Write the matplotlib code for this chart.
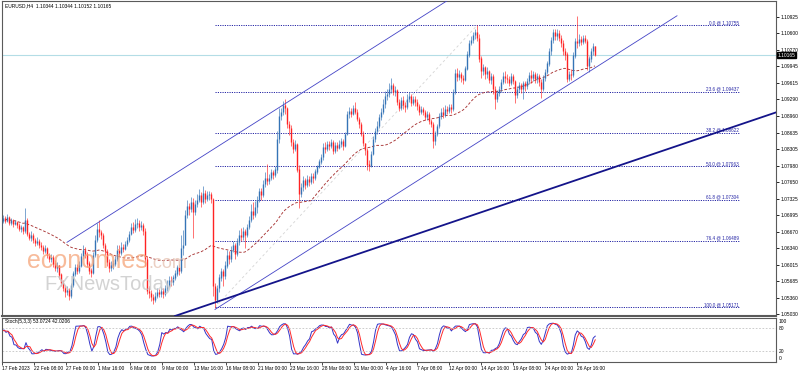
import numpy as np
import pandas as pd
import matplotlib
matplotlib.use("Agg")
import matplotlib.pyplot as plt
import matplotlib.transforms as mtransforms

plt.rcParams["font.family"] = ["Liberation Sans", "DejaVu Sans"]

symbol_title = "EURUSD,H4  1.10344 1.10344 1.10152 1.10165"
stoch_title = "Stoch(5,3,3) 53.0724 42.0206"

# H4 bars, 17 Feb 2023 16:00 .. 28 Apr 2023 04:00 (one row per trading day)
first_open = 1.0676
closes = [
    1.0688, 1.0694,
    1.0688, 1.0696, 1.0684, 1.0690, 1.0682, 1.0686,
    1.0680, 1.0672, 1.0676, 1.0668, 1.0690, 1.0662,
    1.0655, 1.0660, 1.0650, 1.0644, 1.0648, 1.0640,
    1.0636, 1.0628, 1.0634, 1.0620, 1.0612, 1.0616,
    1.0604, 1.0596, 1.0600, 1.0582, 1.0566, 1.0556,
    1.0548, 1.0552, 1.0540, 1.0562, 1.0584, 1.0596,
    1.0590, 1.0600, 1.0618, 1.0630, 1.0622, 1.0604,
    1.0590, 1.0586, 1.0620, 1.0650, 1.0672, 1.0666,
    1.0660, 1.0640, 1.0628, 1.0606, 1.0596, 1.0600,
    1.0604, 1.0612, 1.0630, 1.0624, 1.0636, 1.0632,
    1.0642, 1.0650, 1.0662, 1.0676, 1.0670, 1.0682,
    1.0684, 1.0676, 1.0680, 1.0668, 1.0612, 1.0550,
    1.0546, 1.0538, 1.0532, 1.0540, 1.0548, 1.0544,
    1.0550, 1.0544, 1.0556, 1.0562, 1.0572, 1.0568,
    1.0576, 1.0584, 1.0596, 1.0590, 1.0634, 1.0640,
    1.0700, 1.0718, 1.0712, 1.0726, 1.0706, 1.0722,
    1.0730, 1.0740, 1.0726, 1.0744, 1.0732, 1.0740,
    1.0742, 1.0732, 1.0560, 1.0532, 1.0556, 1.0576,
    1.0588, 1.0580, 1.0600, 1.0620, 1.0612, 1.0630,
    1.0640, 1.0622, 1.0646, 1.0660, 1.0656, 1.0668,
    1.0660, 1.0676, 1.0690, 1.0708, 1.0700, 1.0716,
    1.0730, 1.0748, 1.0740, 1.0762, 1.0774, 1.0768,
    1.0774, 1.0784, 1.0780, 1.0790, 1.0850, 1.0896,
    1.0904, 1.0918, 1.0912, 1.0880, 1.0872, 1.0844,
    1.0830, 1.0840, 1.0790, 1.0742, 1.0756, 1.0770,
    1.0760, 1.0772, 1.0766, 1.0778, 1.0774, 1.0786,
    1.0796, 1.0806, 1.0814, 1.0834, 1.0830, 1.0840,
    1.0836, 1.0844, 1.0826, 1.0838, 1.0832, 1.0840,
    1.0846, 1.0836, 1.0860, 1.0900, 1.0906, 1.0900,
    1.0912, 1.0904, 1.0890, 1.0880, 1.0860, 1.0842,
    1.0828, 1.0800, 1.0798, 1.0820, 1.0850, 1.0866,
    1.0876, 1.0894, 1.0904, 1.0920, 1.0936, 1.0940,
    1.0950, 1.0958, 1.0944, 1.0948, 1.0924, 1.0912,
    1.0928, 1.0918, 1.0914, 1.0930, 1.0936, 1.0922,
    1.0930, 1.0924, 1.0916, 1.0904, 1.0910, 1.0904,
    1.0894, 1.0900, 1.0886, 1.0880, 1.0846, 1.0860,
    1.0876, 1.0896, 1.0904, 1.0898, 1.0910, 1.0906,
    1.0914, 1.0910, 1.0944, 1.0982, 1.0974, 1.0980,
    1.0972, 1.0968, 1.0990, 1.1018, 1.1040, 1.1046,
    1.1056, 1.1062, 1.1050, 1.1010, 1.0986, 1.0992,
    1.0980, 1.0986, 1.0968, 1.0976, 1.0950, 1.0930,
    1.0942, 1.0950, 1.0964, 1.0976, 1.0972, 1.0970,
    1.0962, 1.0976, 1.0966, 1.0938, 1.0950, 1.0958,
    1.0950, 1.0962, 1.0956, 1.0966, 1.0978, 1.0972,
    1.0980, 1.0970, 1.0976, 1.0964, 1.0950, 1.0972,
    1.0984, 1.1000, 1.1024, 1.1046, 1.1062, 1.1054,
    1.1060, 1.1050, 1.1040, 1.1024, 1.1018, 1.0970,
    1.0980, 1.0978, 1.1016, 1.1044, 1.1040, 1.1048,
    1.1042, 1.1050, 1.1044, 1.0996, 1.1010, 1.1024,
    1.10344, 1.10165,
]
highs = [
    1.0694, 1.0700,
    1.0699, 1.0702, 1.0698, 1.0694, 1.0692, 1.0690,
    1.0688, 1.0684, 1.0680, 1.0678, 1.0714, 1.0694,
    1.0666, 1.0668, 1.0664, 1.0654, 1.0656, 1.0652,
    1.0646, 1.0640, 1.0640, 1.0636, 1.0624, 1.0622,
    1.0620, 1.0610, 1.0606, 1.0602, 1.0586, 1.0572,
    1.0562, 1.0560, 1.0556, 1.0566, 1.0590, 1.0604,
    1.0604, 1.0608, 1.0624, 1.0640, 1.0636, 1.0626,
    1.0608, 1.0596, 1.0626, 1.0660, 1.0684, 1.0690,
    1.0670, 1.0664, 1.0644, 1.0632, 1.0612, 1.0608,
    1.0610, 1.0618, 1.0640, 1.0640, 1.0646, 1.0642,
    1.0648, 1.0656, 1.0668, 1.0684, 1.0686, 1.0692,
    1.0694, 1.0690, 1.0688, 1.0684, 1.0674, 1.0618,
    1.0560, 1.0552, 1.0544, 1.0548, 1.0556, 1.0554,
    1.0558, 1.0556, 1.0562, 1.0572, 1.0580, 1.0580,
    1.0582, 1.0592, 1.0602, 1.0604, 1.0660, 1.0670,
    1.0710, 1.0730, 1.0724, 1.0736, 1.0734, 1.0730,
    1.0742, 1.0752, 1.0746, 1.0758, 1.0750, 1.0748,
    1.0748, 1.0746, 1.0734, 1.0566, 1.0562, 1.0584,
    1.0596, 1.0594, 1.0608, 1.0630, 1.0628, 1.0638,
    1.0648, 1.0644, 1.0654, 1.0670, 1.0674, 1.0676,
    1.0672, 1.0682, 1.0698, 1.0722, 1.0726, 1.0728,
    1.0738, 1.0754, 1.0754, 1.0770, 1.0786, 1.0802,
    1.0782, 1.0792, 1.0790, 1.0798, 1.0866, 1.0912,
    1.0912, 1.0926, 1.0930, 1.0914, 1.0886, 1.0878,
    1.0850, 1.0848, 1.0842, 1.0800, 1.0764, 1.0778,
    1.0774, 1.0780, 1.0778, 1.0784, 1.0784, 1.0792,
    1.0800, 1.0812, 1.0820, 1.0842, 1.0844, 1.0846,
    1.0846, 1.0850, 1.0848, 1.0844, 1.0844, 1.0848,
    1.0852, 1.0850, 1.0864, 1.0906, 1.0914, 1.0912,
    1.0918, 1.0924, 1.0910, 1.0894, 1.0884, 1.0866,
    1.0842, 1.0832, 1.0810, 1.0826, 1.0856, 1.0872,
    1.0886, 1.0900, 1.0912, 1.0930, 1.0946, 1.0950,
    1.0962, 1.0972, 1.0962, 1.0956, 1.0950, 1.0930,
    1.0934, 1.0936, 1.0924, 1.0940, 1.0944, 1.0940,
    1.0936, 1.0936, 1.0930, 1.0920, 1.0916, 1.0914,
    1.0908, 1.0906, 1.0904, 1.0890, 1.0884, 1.0866,
    1.0880, 1.0902, 1.0912, 1.0914, 1.0918, 1.0916,
    1.0920, 1.0920, 1.0950, 1.0990, 1.0992, 1.0988,
    1.0984, 1.0978, 1.0996, 1.1024, 1.1046, 1.1054,
    1.1062, 1.1068, 1.1076, 1.1058, 1.1016, 1.1000,
    1.0996, 1.0994, 1.0988, 1.0982, 1.0980, 1.0956,
    1.0948, 1.0956, 1.0970, 1.0984, 1.0986, 1.0980,
    1.0976, 1.0982, 1.0980, 1.0968, 1.0956, 1.0964,
    1.0962, 1.0966, 1.0966, 1.0972, 1.0984, 1.0988,
    1.0986, 1.0984, 1.0982, 1.0980, 1.0970, 1.0978,
    1.0990, 1.1006, 1.1030, 1.1052, 1.1068, 1.1068,
    1.1068, 1.1066, 1.1056, 1.1046, 1.1030, 1.1022,
    1.0986, 1.0990, 1.1022, 1.1050, 1.1095, 1.1058,
    1.1054, 1.1056, 1.1056, 1.1048, 1.1016, 1.1030,
    1.1040, 1.10344,
]
lows = [
    1.0672, 1.0685,
    1.0684, 1.0686, 1.0680, 1.0681, 1.0676, 1.0680,
    1.0675, 1.0668, 1.0666, 1.0662, 1.0664, 1.0658,
    1.0650, 1.0648, 1.0644, 1.0638, 1.0640, 1.0634,
    1.0630, 1.0622, 1.0624, 1.0614, 1.0606, 1.0606,
    1.0598, 1.0590, 1.0588, 1.0574, 1.0560, 1.0550,
    1.0538, 1.0542, 1.0532, 1.0536, 1.0558, 1.0580,
    1.0584, 1.0586, 1.0598, 1.0612, 1.0614, 1.0598,
    1.0584, 1.0578, 1.0584, 1.0616, 1.0646, 1.0656,
    1.0652, 1.0634, 1.0620, 1.0600, 1.0588, 1.0590,
    1.0594, 1.0600, 1.0608, 1.0618, 1.0620, 1.0626,
    1.0630, 1.0638, 1.0646, 1.0660, 1.0664, 1.0666,
    1.0674, 1.0668, 1.0670, 1.0660, 1.0600, 1.0544,
    1.0536, 1.0530, 1.0524, 1.0528, 1.0536, 1.0538,
    1.0538, 1.0536, 1.0540, 1.0550, 1.0558, 1.0560,
    1.0562, 1.0572, 1.0580, 1.0582, 1.0586, 1.0620,
    1.0650, 1.0694, 1.0700, 1.0706, 1.0654, 1.0700,
    1.0716, 1.0726, 1.0716, 1.0722, 1.0724, 1.0728,
    1.0730, 1.0724, 1.0540, 1.0516, 1.0526, 1.0548,
    1.0570, 1.0560, 1.0574, 1.0596, 1.0604, 1.0606,
    1.0626, 1.0612, 1.0618, 1.0640, 1.0648, 1.0650,
    1.0634, 1.0656, 1.0672, 1.0686, 1.0692, 1.0696,
    1.0704, 1.0726, 1.0730, 1.0736, 1.0756, 1.0760,
    1.0762, 1.0770, 1.0772, 1.0776, 1.0784, 1.0842,
    1.0888, 1.0898, 1.0900, 1.0872, 1.0858, 1.0836,
    1.0822, 1.0826, 1.0786, 1.0714, 1.0736, 1.0748,
    1.0752, 1.0756, 1.0758, 1.0762, 1.0764, 1.0770,
    1.0782, 1.0794, 1.0802, 1.0810, 1.0822, 1.0826,
    1.0828, 1.0832, 1.0820, 1.0822, 1.0826, 1.0830,
    1.0834, 1.0828, 1.0834, 1.0858, 1.0892, 1.0894,
    1.0898, 1.0900, 1.0886, 1.0872, 1.0856, 1.0836,
    1.0818, 1.0790, 1.0788, 1.0796, 1.0818, 1.0844,
    1.0860, 1.0872, 1.0888, 1.0900, 1.0912, 1.0928,
    1.0934, 1.0942, 1.0938, 1.0936, 1.0918, 1.0906,
    1.0908, 1.0910, 1.0904, 1.0910, 1.0924, 1.0916,
    1.0918, 1.0916, 1.0908, 1.0898, 1.0900, 1.0898,
    1.0888, 1.0888, 1.0880, 1.0874, 1.0832, 1.0838,
    1.0856, 1.0872, 1.0890, 1.0892, 1.0894, 1.0900,
    1.0902, 1.0902, 1.0906, 1.0940, 1.0966, 1.0968,
    1.0964, 1.0960, 1.0966, 1.0988, 1.1014, 1.1036,
    1.1040, 1.1048, 1.1044, 1.1004, 1.0972, 1.0978,
    1.0970, 1.0972, 1.0962, 1.0960, 1.0940, 1.0910,
    1.0924, 1.0936, 1.0944, 1.0960, 1.0962, 1.0962,
    1.0956, 1.0958, 1.0960, 1.0922, 1.0932, 1.0944,
    1.0942, 1.0930, 1.0946, 1.0950, 1.0960, 1.0962,
    1.0966, 1.0962, 1.0962, 1.0956, 1.0932, 1.0946,
    1.0966, 1.0980, 1.0996, 1.1018, 1.1040, 1.1046,
    1.1046, 1.1044, 1.1032, 1.1018, 1.1008, 1.0964,
    1.0966, 1.0968, 1.0974, 1.1012, 1.1030, 1.1034,
    1.1036, 1.1038, 1.1040, 1.0988, 1.0984, 1.1004,
    1.1018, 1.10152,
]

price_ticks = [1.10925, 1.10600, 1.10270, 1.09945, 1.09615, 1.09290, 1.08960,
               1.08635, 1.08305, 1.07980, 1.07650, 1.07325, 1.06995, 1.06670,
               1.06340, 1.06015, 1.05685, 1.05360, 1.05030]
last_price = 1.10165

# Fibonacci retracement, anchored at the 15 Mar low and the 14 Apr high
fib_low = 1.05171
fib_high = 1.10755
fib_levels = [0.0, 23.6, 38.2, 50.0, 61.8, 76.4, 100.0]
fib_low_bar = 107
fib_high_bar = 238
fib_end_bar = 369.5

# drawn trend objects: (bar, price) anchors
channel_upper = [(33, 1.0646), (224, 1.11269)]
channel_lower = [(107, 1.0513), (338, 1.10947)]
trend_line = [(87, 1.0500), (388, 1.0904)]

ma_period = 50
stoch_k, stoch_d, stoch_slow = 5, 3, 3

closes = np.array(closes)
highs = np.array(highs)
lows = np.array(lows)
opens = np.r_[first_open, closes[:-1]]
highs = np.maximum(highs, np.maximum(opens, closes))
lows = np.minimum(lows, np.minimum(opens, closes))
n = len(closes)
x = np.arange(n)

times = pd.date_range("2023-02-17 16:00", "2023-04-28 04:00", freq="4h")
times = times[times.weekday < 5]

ma = pd.Series(closes).rolling(ma_period, min_periods=1).mean()
hh = pd.Series(highs).rolling(stoch_k, min_periods=1).max()
ll = pd.Series(lows).rolling(stoch_k, min_periods=1).min()
num = (pd.Series(closes) - ll).rolling(stoch_slow, min_periods=1).sum()
den = (hh - ll).rolling(stoch_slow, min_periods=1).sum()
k_line = 100 * num / den
d_line = k_line.rolling(stoch_d, min_periods=1).mean()

W, H = 798, 372
fig = plt.figure(figsize=(W / 100, H / 100), dpi=100)
ax = fig.add_axes([2 / W, 56 / H, 774 / W, 315 / H])
ax2 = fig.add_axes([2 / W, 10 / H, 774 / W, 44 / H])

bull, bear = "#3574b6", "#ff2323"
navy = "#2525a5"

# watermark
fig.text(27 / W, 1 - 268 / H, "economies", fontsize=18, color="#f5a479", alpha=0.75, zorder=0)
fig.text(148 / W, 1 - 268 / H, ".com", fontsize=13, color="#e6c4b4", alpha=0.8, zorder=0)
fig.text(44 / W, 1 - 290 / H, "FXNewsToday", fontsize=14.5, color="#c8c8c8", alpha=0.8, zorder=0)

# candles
up = closes >= opens
cols = np.where(up, bull, bear)
ax.vlines(x, lows, highs, colors=cols, linewidth=0.45, zorder=3)
ax.vlines(x, np.minimum(opens, closes), np.maximum(opens, closes) + 0.00003,
          colors=cols, linewidth=1.0, zorder=3)

ax.plot(x, ma, color="#a83434", lw=0.65, dashes=(3, 2), zorder=2)

ax.axhline(last_price, color="#b4dde6", lw=0.8, zorder=1)

# fibonacci
ax.plot([fib_low_bar, fib_high_bar], [fib_low, fib_high], color="#d4d4d4", lw=0.6,
        dashes=(3, 3), zorder=1)
for lvl in fib_levels:
    p = fib_high - lvl / 100 * (fib_high - fib_low)
    ax.hlines(p, fib_low_bar, fib_end_bar, colors=navy, lw=0.7,
              linestyles=(0, (1.2, 1.2)), zorder=1)
    ax.text(fib_end_bar - 0.5, p + 0.0001, f"{lvl:.1f} @ {p:.5f}", fontsize=3.3,
            color=navy, ha="right", va="bottom")

for line, c, lw in [(channel_upper, "#4343c6", 0.6), (channel_lower, "#4343c6", 0.6),
                    (trend_line, "#14148a", 1.3)]:
    ax.plot([line[0][0], line[1][0]], [line[0][1], line[1][1]], color=c, lw=lw, zorder=4)

ax.set_xlim(0.5, 387.5)
ax.set_ylim(1.0500, 1.1124)
ax.set_xticks([])
ax.yaxis.tick_right()
ax.set_yticks(price_ticks)
ax.set_yticklabels([f"{v:.5f}" for v in price_ticks])
ax.tick_params(axis="y", length=2, width=0.6, labelsize=3.5, pad=1)
for s in ax.spines.values():
    s.set_color("#5a5a5a")
    s.set_linewidth(0.8)
ax.spines["bottom"].set_linewidth(1.5)

trans = mtransforms.blended_transform_factory(ax.transAxes, ax.transData)
ax.text(1.002, last_price, f"{last_price:.5f}", transform=trans, fontsize=3.5,
        color="white", va="center", ha="left",
        bbox=dict(boxstyle="square,pad=0.15", fc="black", ec="black"))

fig.text(5 / W, 1 - 6 / H, symbol_title, fontsize=3.5, va="center")

# stochastic panel
ax2.plot(x, k_line, color="#3434c8", lw=0.7)
ax2.plot(x, d_line, color="#ff2a2a", lw=0.7)
for lvl in (20, 80):
    ax2.axhline(lvl, color="#c4c4c4", lw=0.6, dashes=(2, 2))
ax2.set_xlim(0.5, 387.5)
ax2.set_ylim(-10.8, 108.1)
ax2.yaxis.tick_right()
ax2.set_yticks([0, 20, 80, 100])
ax2.set_yticklabels(["0", "20", "80", "100"])
ax2.tick_params(axis="y", length=0, labelsize=3.5, pad=2)
tick_bars = list(range(0, n, 16))
labels = []
for i in tick_bars:
    t = times[i]
    labels.append(f"{t.day} {t:%b %Y}" if i == 0 else f"{t.day} {t:%b %H:%M}")
ax2.set_xticks(tick_bars)
ax2.set_xticklabels(labels, ha="left")
ax2.tick_params(axis="x", length=2, width=0.5, labelsize=3.5, pad=1)
for s in ax2.spines.values():
    s.set_color("#5a5a5a")
    s.set_linewidth(0.8)
fig.text(5 / W, 1 - 322 / H, stoch_title, fontsize=3.5, va="center")

fig.savefig("out.png", dpi=100, facecolor="white")
